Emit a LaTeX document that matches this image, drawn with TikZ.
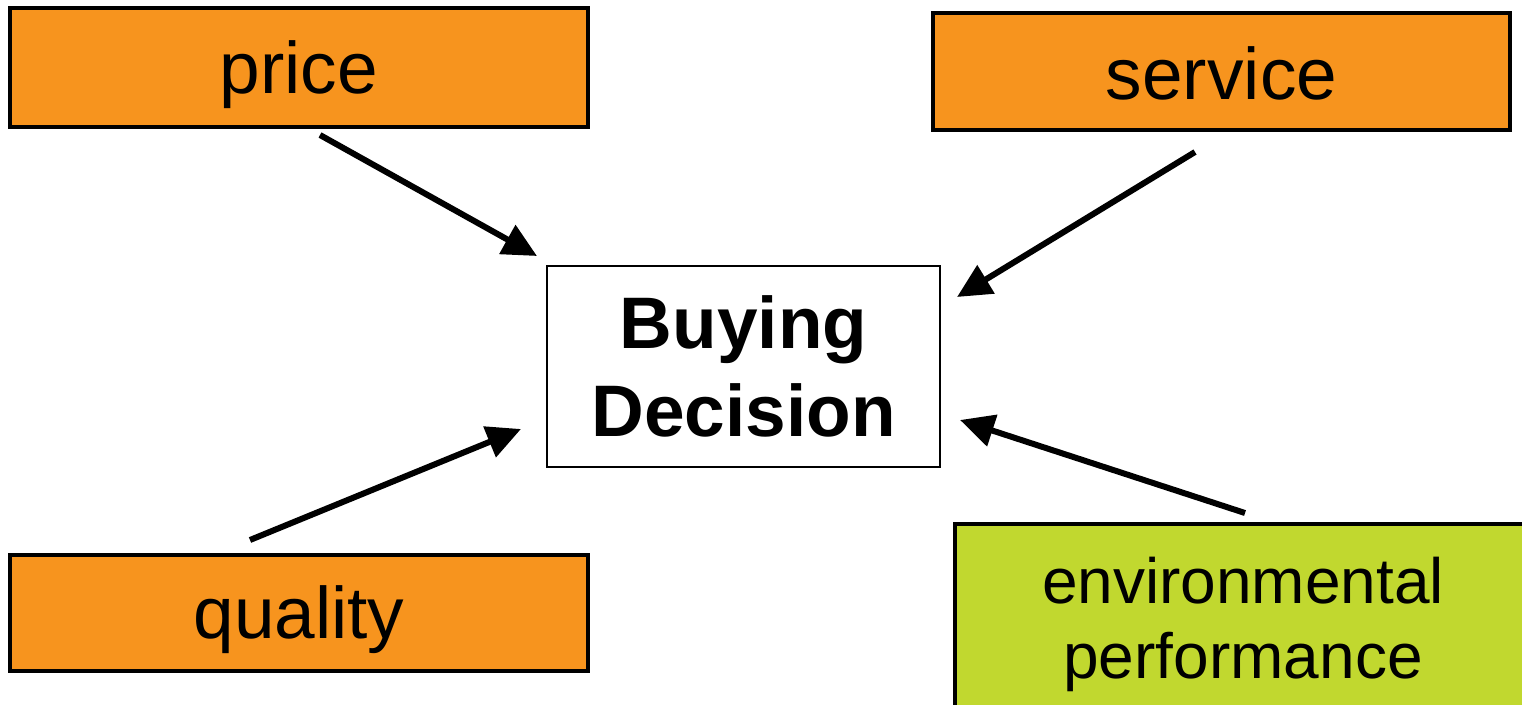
\documentclass[tikz,border=0pt]{standalone}
\usepackage{fontspec}
\setmainfont{Liberation Sans}
\usetikzlibrary{arrows.meta}
\definecolor{boxorange}{HTML}{F7941E}
\definecolor{boxgreen}{HTML}{C1D82F}
\newcommand{\lowerby}[2]{\raisebox{-#1}[\height][\depth]{#2}}
\begin{document}
\begin{tikzpicture}[x=1pt,y=-1pt,
  factor/.style={draw=black,line width=4pt,fill=boxorange,inner sep=0pt,outer sep=0pt,align=center,font=\fontsize{73}{80}\selectfont},
  center/.style={draw=black,line width=1.3pt,fill=white,inner sep=0pt,outer sep=0pt,align=center,font=\fontsize{73}{88}\selectfont\bfseries},
  conn/.style={line width=6pt,-{Triangle[length=34pt,width=32pt]}}]
\clip (0,0) rectangle (1522,704);
\fill[white] (0,0) rectangle (1522,704);
\node[factor,minimum width=578pt,minimum height=119pt] (price) at (299,67.5) {\lowerby{7pt}{price}};
\node[factor,minimum width=577pt,minimum height=117pt] (service) at (1221.5,71.5) {\lowerby{2pt}{service}};
\node[factor,minimum width=578pt,minimum height=116pt] (quality) at (299,613) {\lowerby{7pt}{quality}};
\node[factor,fill=boxgreen,minimum width=576pt,minimum height=200pt,font=\fontsize{64}{75}\selectfont] (env) at (1243,624) {environmental\\performance};
\node[center,minimum width=393pt,minimum height=201pt] (buy) at (743.5,366.5) {Buying\\Decision};
\coordinate (p1) at (320,135);
\coordinate (p2) at (537,256);
\coordinate (s1) at (1195,152);
\coordinate (s2) at (957,297);
\coordinate (q1) at (250,540);
\coordinate (q2) at (521,429);
\coordinate (e1) at (1245,513);
\coordinate (e2) at (960,420);
\draw[conn] (p1) -- (p2);
\draw[conn] (s1) -- (s2);
\draw[conn] (q1) -- (q2);
\draw[conn] (e1) -- (e2);
\end{tikzpicture}
\end{document}
